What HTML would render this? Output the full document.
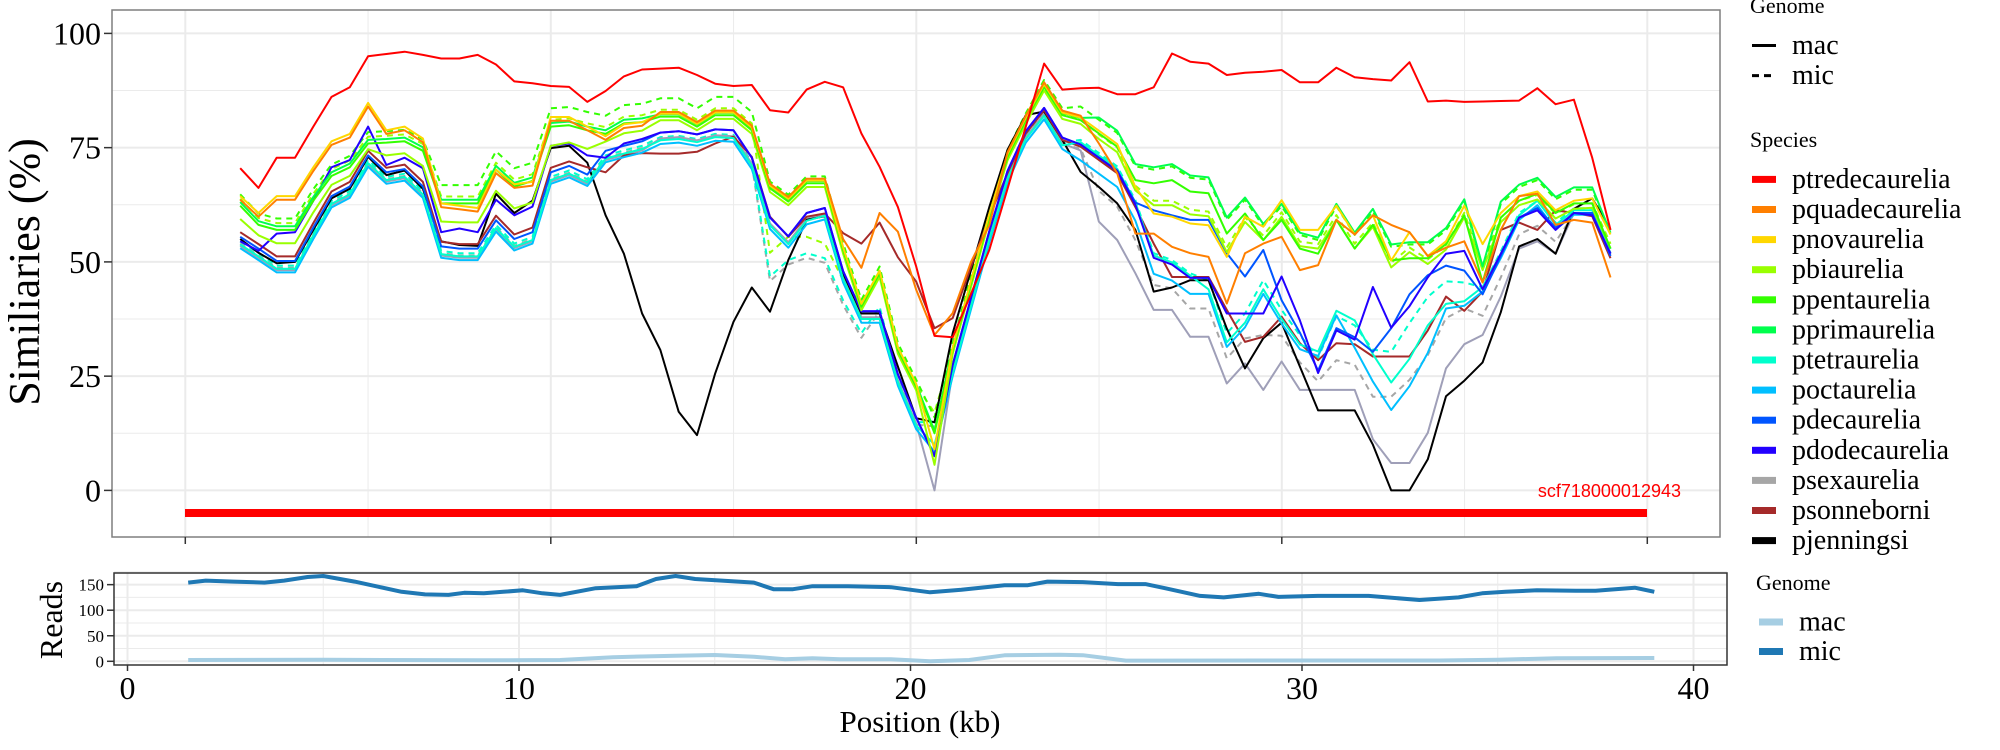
<!DOCTYPE html>
<html><head><meta charset="utf-8"><style>
html,body{margin:0;padding:0;background:#fff;}
svg{display:block;}
text{font-family:"Liberation Serif",serif;}
</style></head><body>
<svg id="s" width="2000" height="750" xmlns="http://www.w3.org/2000/svg"></svg>
<script>
const S=document.getElementById('s');let out='';
function add(s){out+=s;}
const L=112,R=1720,T=10,B=537;
const yv=v=>490.4-v*4.57, xi=i=>240.2+18.27*i;
add(`<rect x="${L}" y="${T}" width="${R-L}" height="${B-T}" fill="#fff"/>`);
for(let v=-12.5;v<=100;v+=12.5){const y=yv(v);if(y<T||y>B)continue;add(`<line x1="${L}" x2="${R}" y1="${y}" y2="${y}" stroke="#ebebeb" stroke-width="${v%25==0?2:1}"/>`);}
for(let k=0;k<9;k++){const x=185.3+182.75*k;add(`<line x1="${x}" x2="${x}" y1="${T}" y2="${B}" stroke="#ebebeb" stroke-width="${k%2==0?2:1}"/>`);}
function fix(a){a=a.slice(0,76);while(a.length<76)a.push(a[a.length-1]);return a;}
const G=fix([62.3,58.1,57,57,63.4,68.8,70.7,75.9,76.1,76.4,74.3,62.8,62.8,62.8,70.2,66.5,67.7,79.6,79.9,78.8,78,80.3,80.6,
81.8,81.8,79.6,82.1,82.1,78.8,66.1,63.2,67.2,67.2,52.6,40.2,47.5,30.7,22.7,12.5,30.7,45.3,59.9,73,81,88.3,82.1,81,78.1,75.2,67.9,67.2,67.9,65.4,65,56.2,60.6,54.8,59.2,
52.9,51.8,59.2,52.9,58.1,50.3,50.8,50.8,53.9,60.2,45.5,59.7,63.4,64.9,60.7,62.8,62.8,52.9]);
const Bc=fix([55,52.4,49.7,49.7,57,63.9,66,72.8,69.1,69.8,66,52.9,52.4,52.4,58.6,54.5,56,69.1,70.5,68.6,73.8,74.9,75.9,
77.8,78.1,77.4,78.5,78.3,72.3,59.2,55.1,60.2,61.3,47.5,38.7,38.7,24.9,15.4,7,27,41.6,56.2,69.4,78.1,83.2,76.7,75.2,72.3,69.4,62,50.4,48.9,46,46,34.4,38.7,46,39.5,
34,25.7,35,33,29.8,35,42.4,46.6,48.7,47.6,42.4,50.8,59.2,61.3,57,60.2,60.2,50.8]);
const Yearly=[64.4,60.7,64.4,64.4,70.7,76.4,78,84.8,78.8,79.6,77,62.8,62.3,61.8,70.2,67,67.5,81.7,81.7,79.6,77.5,80.1,80.6];
const mk=f=>Array.from({length:76},(_,i)=>f(i));
const red=fix([70.5,66.2,72.8,72.8,79.6,86.1,88.2,95,95.5,96,95.3,94.5,94.5,95.3,93.2,89.5,89.1,88.5,88.3,85,87.4,90.6,92.1,
92.3,92.5,90.9,89,88.5,88.7,83.2,82.7,87.7,89.4,88.2,78.1,70.8,62,49,33.8,33.5,43,52.6,66,79.6,93.4,87.7,88,88.1,86.7,86.7,88.2,95.6,93.8,93.4,90.9,91.4,91.6,92,
89.3,89.3,92.5,90.4,90,89.7,93.7,85.1,85.3,85,85.1,85.2,85.3,88,84.5,85.5,72.8,57]);
const yelLate=[66.4,60.6,59.9,58.4,58,51.1,59.9,57.7,63.5,57,57,62.3,56,60.2,50.3,56.5,51.3,54.5,62.3,53.9,60.7,64.4,65.4,61.3,63.4,63.9,56];
const yel=mk(i=>i<23?Yearly[i]:i<49?(i==38?9:G[i]+0.6):yelLate[i-49]);
const orLate=[75.9,69.4,56.2,56.2,53.3,51.9,51.1,40.9,51.9,54,55.5,48.2,49.3,59.2,56,60.2,58.1,56.5,51.3,53.1,54.5,45.5,57,64.4,64.9,58.1,59.2,58.6,46.6];
const orMid={33:55,34:48.7,35:60.7,36:56.6,37:43.9,38:34,39:38.8,40:50,41:58};
const ora=mk(i=>i<23?Yearly[i]-0.8:i<47?(orMid[i]!==undefined?orMid[i]:G[i]+1):orLate[i-47]);
const bi=mk(i=>i<23?(G[i]*0.6+Bc[i]*0.4):i<47?(i==38?5.6:G[i]-0.8):(G[i]+yel[i])/2-1.5);
const prim=mk(i=>i<23?G[i]+0.8:i<47?G[i]+0.5:G[i]+3.5);
const tetLate={58:31.9,59:30.4,60:39.3,61:37.2,62:29.8,63:23.6,64:28.8,65:36.1,66:40.8,67:41.4,68:44.5,69:51.8,70:60.2,71:63.4,72:58.1,73:61.3,74:61.3,75:52.9};
const tet=mk(i=>i==38?10:i<46?Bc[i]-1.2:i<58?Bc[i]+(i>=53?-2:1):tetLate[i]);
const oct=mk(i=>i==38?8.5:i<46?Bc[i]-2:i<58?Bc[i]-3:(i>=61&&i<=65?tet[i]-6:tet[i]-1));
const decL={48:70,49:63,50:61.3,51:60.2,52:59.2,53:59.2,54:51.9,55:46.8,56:52.6,57:41.6};
const dec=mk(i=>decL[i]!==undefined?decL[i]:Bc[i]+0.5);
const dodE=[54.5,52.4,56.2,56.5,63.4,70.7,72.3,79.6,71.2,72.8,70.5,56.5,57.3,56.5,63.6,60.2,62.1,75.4,75.9,73.3,72.8,75.9,76.9];
const dodL={54:38.7,55:38.7,56:38.7,57:46.8,58:37.2,59:25.7,60:35,61:33,62:44.5,63:35.6,64:40.3,65:46.6,66:51.8,67:52.4,68:44,69:51.8,70:59.7,71:61.3,72:57,73:60.7,74:60.2,75:51.8};
const dod=mk(i=>i<23?dodE[i]:dodL[i]!==undefined?dodL[i]:Bc[i]+0.5);
const grL=[58.8,54.8,47.5,39.5,39.5,33.6,33.6,23.4,27.8,22,28.2,22,22,22,22,11.2,6,6,12.6,26.7,32,34,42.4,52.9,54.5,51.8,60.7,60.7,52];
const gry=mk(i=>i==38?0:i<23?Bc[i]-1.5:i<47?Bc[i]-0.8:grL[i-47]);
const brMid=[70.7,69.6,73.3,73.8,73.7,73.7,74.1,75.9,77.4,73,59.9,55.5,59.9,60.6,56.3,54,58.6,51,45.7,35.5,37.7,48.9,59.9];
const brL=[54,46.7,46.7,46.7,39.5,32.5,33.6,38,32.2,28.5,32.2,32,29.3,29.3,29.3,35,42.4,39.3,43.5,57,58.6,57,61.3,60.7,60,50.8];
const brn=mk(i=>i<19?Bc[i]+1.5:i<42?brMid[i-19]:i<50?Bc[i]:brL[i-50]);
const blkE=[55,52,49.7,50,57,63.9,66,73,69,70,66,54.5,53.7,53.5,64.9,60.7,63.4,74.9];
const blkR=[75.4,71.7,60.2,51.8,38.7,30.7,17.2,12.1,25.6,36.9,44.4,39.1,50.4,59.2,60,47.5,38.7,38.7,27.1,15.8,14.9,34.4,48.2,62,74.5,82.1,82.9,76.7,69.7,66.4,62.8,57,43.5,44.4,46,46,35.4,26.7,33.3,36.7,27.1,17.5,17.5,17.5,10,0,0,6.8,20.6,24,28,39,53.4,55,51.8,61.6,63.9,57];
const blk=fix(blkE.concat(blkR));
const gMic=mk(i=>i==38?16:i<11?G[i]+2.5:i<29?G[i]+4:i<46?G[i]+1.5:G[i]+3);
const biMic=mk(i=>i==38?17:i<29?G[i]+1.5:i<34?[52,55.5,55.5,54,46][i-29]:bi[i]+1);
const tetMicM={29:46.8,30:50.4,31:51.9,32:50.8,33:41.6,34:34.4,35:40.2,38:15};
const tetMic=mk(i=>tetMicM[i]!==undefined?tetMicM[i]:i<46?Bc[i]-0.5:(tet[i]+Bc[i])/2+1);
const sexMic=mk(i=>tetMicM[i]!==undefined?tetMicM[i]-1:i<46?Bc[i]-1:(gry[i]+Bc[i])/2);
function line(a,c,dash,w){const p=a.map((v,i)=>xi(i).toFixed(1)+','+yv(v).toFixed(1)).join(' ');
add(`<polyline points="${p}" fill="none" stroke="${c}" stroke-width="${w||2}" stroke-linejoin="round" ${dash?'stroke-dasharray="6,5"':''}/>`);}
const C={red:'#ff0000',ora:'#ff7f00',yel:'#ffd700',bi:'#99ff00',pen:'#33ff00',pri:'#00ff4d',tet:'#00ffcc',oct:'#00bfff',dec:'#0055ff',dod:'#2200ff',sex:'#a6a6a6',son:'#a52a2a',jen:'#000000'};
line(sexMic,C.sex,1);line(tetMic,C.tet,1);line(biMic,C.bi,1);line(gMic,C.pen,1);
line(gry,'#9f9fb8');line(blk,C.jen);line(brn,C.son);line(oct,C.oct);line(tet,C.tet);line(dec,C.dec);line(dod,C.dod);
line(bi,C.bi);line(prim,C.pri);line(G,C.pen);line(yel,C.yel);line(ora,C.ora);line(red,C.red);
add(`<rect x="185" y="509" width="1462" height="8" fill="#ff0000"/>`);
add(`<text x="1681" y="497" text-anchor="end" font-size="18" fill="#ff0000" style="font-family:'Liberation Sans',sans-serif">scf718000012943</text>`);
add(`<rect x="${L}" y="${T}" width="${R-L}" height="${B-T}" fill="none" stroke="#7f7f7f" stroke-width="1.5"/>`);
[0,25,50,75,100].forEach(v=>{const y=yv(v);add(`<line x1="104" x2="${L}" y1="${y}" y2="${y}" stroke="#333" stroke-width="1.5"/><text x="101" y="${y+11}" text-anchor="end" font-size="32">${v}</text>`);});
for(let k=0;k<5;k++){const x=185.3+365.5*k;add(`<line x1="${x}" x2="${x}" y1="${B}" y2="${B+7}" stroke="#333" stroke-width="1.5"/>`);}
add(`<text transform="translate(39,272) rotate(-90)" text-anchor="middle" font-size="44">Similiaries (%)</text>`);
const bL=114,bR=1727,bT=573,bB=665;
const xk=k=>127.5+39.15*k, yr=r=>661.3-r*0.511;
for(let r=0;r<=175;r+=25){const y=yr(r);add(`<line x1="${bL}" x2="${bR}" y1="${y}" y2="${y}" stroke="#ebebeb" stroke-width="${r%50==0?2:1}"/>`);}
for(let k=0;k<=40;k+=5){const x=xk(k);add(`<line x1="${x}" x2="${x}" y1="${bT}" y2="${bB}" stroke="#ebebeb" stroke-width="${k%10==0?2:1}"/>`);}
const micPts=[[13.5,161],[14,167],[14.5,161],[15.6,156],[16,154],[16.5,141],[17,141],[17.5,147],[18.4,147],[19.5,145],[20.5,135],[21.3,140],[22.4,149],[23,149],[23.5,156],[24.4,155],[25.3,151],[26,151],[26.5,143],[27.4,128],[28,125],[28.9,132]];
const early=[[1.55,154],[2.0,158],[2.7,156],[3.5,154],[4.0,158],[4.6,165],[5.0,167],[5.8,156],[6.4,146],[7.0,136],[7.6,131],[8.2,130],[8.6,134],[9.1,133],[9.6,136],[10.1,139],[10.6,133],[11.05,130],[11.96,143],[13,147]];
const micAll=early.concat(micPts).concat([[29.4,126],[30.4,128],[31.7,128],[33.0,120],[34.0,125],[34.6,133],[35.2,136],[36.0,139],[37.0,138],[37.5,138],[38.5,144],[39.0,136]]);
const mac=[[1.55,2.5],[5,3],[9,2],[11.05,2.6],[12.4,8],[14,11],[15,12.4],[16,9],[16.8,4],[17.5,6],[18.2,4],[19.5,4],[20.5,0],[21.5,2.6],[22.4,11.7],[23.8,13],[24.4,12],[25.5,1.3],[29,1.5],[33.5,1.5],[35,3],[36.5,6],[39,6.5]];
function pl(a,c,w){return `<polyline points="${a.map(p=>xk(p[0]).toFixed(1)+','+yr(p[1]).toFixed(1)).join(' ')}" fill="none" stroke="${c}" stroke-width="${w}" stroke-linejoin="round" stroke-linecap="butt"/>`;}
add(pl(mac,'#a6cee3',4));add(pl(micAll,'#1f78b4',4));
add(`<rect x="${bL}" y="${bT}" width="${bR-bL}" height="${bB-bT}" fill="none" stroke="#333" stroke-width="1.5"/>`);
[0,50,100,150].forEach(r=>{const y=yr(r);add(`<line x1="107" x2="${bL}" y1="${y}" y2="${y}" stroke="#333" stroke-width="1.5"/><text x="104" y="${y+6}" text-anchor="end" font-size="17">${r}</text>`);});
[0,10,20,30,40].forEach(k=>{const x=xk(k);add(`<line x1="${x}" x2="${x}" y1="${bB}" y2="${bB+6}" stroke="#333" stroke-width="1.5"/><text x="${x}" y="699" text-anchor="middle" font-size="32">${k}</text>`);});
add(`<text transform="translate(62,620) rotate(-90)" text-anchor="middle" font-size="32">Reads</text>`);
add(`<text x="920" y="732" text-anchor="middle" font-size="31">Position (kb)</text>`);
add(`<text x="1750" y="13" font-size="22">Genome</text>`);
add(`<line x1="1752" x2="1776" y1="45.5" y2="45.5" stroke="#000" stroke-width="3"/><text x="1792" y="54" font-size="28">mac</text>`);
add(`<line x1="1752" x2="1776" y1="75.6" y2="75.6" stroke="#000" stroke-width="3" stroke-dasharray="7,5"/><text x="1792" y="84" font-size="28">mic</text>`);
add(`<text x="1750" y="147" font-size="22">Species</text>`);
const sp=[['ptredecaurelia',C.red],['pquadecaurelia',C.ora],['pnovaurelia',C.yel],['pbiaurelia',C.bi],['ppentaurelia',C.pen],['pprimaurelia',C.pri],['ptetraurelia',C.tet],['poctaurelia',C.oct],['pdecaurelia',C.dec],['pdodecaurelia',C.dod],['psexaurelia',C.sex],['psonneborni',C.son],['pjenningsi',C.jen]];
sp.forEach((s,k)=>{const y=179.4+30.1*k;add(`<rect x="1752" y="${y-3.5}" width="24" height="7" fill="${s[1]}"/><text x="1792" y="${y+8.5}" font-size="28">${s[0]}</text>`);});
add(`<text x="1756" y="590" font-size="22">Genome</text>`);
add(`<rect x="1759" y="618.5" width="24" height="7" fill="#a6cee3"/><text x="1799" y="630.5" font-size="28">mac</text>`);
add(`<rect x="1759" y="648" width="24" height="7" fill="#1f78b4"/><text x="1799" y="660" font-size="28">mic</text>`);
S.innerHTML=out;
</script>
</body></html>
